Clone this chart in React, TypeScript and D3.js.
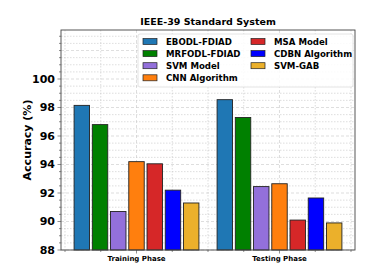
import React from 'react';
import * as d3 from 'd3';

const phases = ['Training Phase', 'Testing Phase'];
const models = ['EBODL-FDIAD', 'MRFODL-FDIAD', 'SVM Model', 'CNN Algorithm', 'MSA Model', 'CDBN Algorithm', 'SVM-GAB'];
const colors = ['#1f77b4', '#008000', '#9370db', '#ff7f0e', '#d62728', '#0000ff', '#ebb02b'];
const training = [98.15, 96.8, 90.7, 94.2, 94.05, 92.2, 91.3];
const testing = [98.55, 97.3, 92.45, 92.65, 90.1, 91.65, 89.9];
const yTicks = [88, 90, 92, 94, 96, 98, 100];

const W = 383;
const H = 278;
const left = 61, right = 355, top = 30, bottom = 250;
const font = '"DejaVu Sans", Verdana, sans-serif';

export default function App() {
  const x = d3.scaleLinear().domain([-0.528, 1.528]).range([left, right]);
  const y = d3.scaleLinear().domain([88, 103.44]).range([bottom, top]);
  const step = 0.1275;
  const bw = 0.108;
  const series = [training, testing];

  const minorY = d3.range(88, 103.5, 0.5);
  const minorX = d3.range(-0.5, 1.51, 0.25);

  const legendX = 138, legendY = 34;
  const colX = [143, 251];
  const rowY = (r: number) => 41.5 + r * 12.1;

  return (
    <svg width={W} height={H} style={{ position: 'absolute', left: 0, top: 0 }}>
      <rect width={W} height={H} fill="#fff" />
      {/* grid */}
      {minorY.map((v, i) => (
        <line key={'gy' + i} x1={left} x2={right} y1={y(v)} y2={y(v)}
          stroke="#c8c8c8" strokeWidth={0.6} strokeDasharray={v % 2 === 0 ? '3,2' : '1.5,1.5'} />
      ))}
      {minorX.map((v, i) => (
        <line key={'gx' + i} x1={x(v)} x2={x(v)} y1={top} y2={bottom}
          stroke="#c8c8c8" strokeWidth={0.6} strokeDasharray={Math.abs(v % 1) < 1e-6 ? '3,2' : '1.5,1.5'} />
      ))}
      {/* bars */}
      {series.map((vals, g) =>
        vals.map((v, k) => (
          <rect key={`b${g}-${k}`}
            x={x(g + (k - 3) * step - bw / 2)}
            width={x(bw) - x(0)}
            y={y(v)}
            height={y(88) - y(v)}
            fill={colors[k]}
            stroke="#222" strokeWidth={0.9} />
        ))
      )}
      {/* frame */}
      <rect x={left} y={top} width={right - left} height={bottom - top} fill="none" stroke="#444" strokeWidth={0.9} />
      {/* y ticks */}
      {minorY.map((v, i) => (
        <line key={'ty' + i} x1={left - (yTicks.includes(v) ? 3.5 : 2)} x2={left} y1={y(v)} y2={y(v)} stroke="#444" strokeWidth={0.6} />
      ))}
      {yTicks.map(t => (
        <text key={'yl' + t} x={left - 6} y={y(t)} dy="0.35em" textAnchor="end"
          fontFamily={font} fontWeight="bold" fontSize={11}>{t}</text>
      ))}
      {/* x ticks */}
      {minorX.map((v, i) => (
        <line key={'tx' + i} x1={x(v)} x2={x(v)} y1={bottom} y2={bottom + (Math.abs(v % 1) < 1e-6 ? 3.5 : 2)} stroke="#444" strokeWidth={0.6} />
      ))}
      {phases.map((p, i) => (
        <text key={p} x={x(i)} y={bottom + 11} textAnchor="middle"
          fontFamily={font} fontWeight="bold" fontSize={7}>{p}</text>
      ))}
      <text transform={`translate(31,${(top + bottom) / 2}) rotate(-90)`} textAnchor="middle"
        fontFamily={font} fontWeight="bold" fontSize={11}>Accuracy (%)</text>
      <text x={208} y={25} textAnchor="middle" fontFamily={font} fontWeight="bold" fontSize={9.5}>IEEE-39 Standard System</text>
      {/* legend */}
      <rect x={legendX} y={legendY} width={215} height={53} rx={2} fill="#fff" fillOpacity={0.85} stroke="#ddd" strokeWidth={0.8} />
      {models.map((m, i) => {
        const c = i < 4 ? 0 : 1;
        const r = i < 4 ? i : i - 4;
        const cy = rowY(r);
        return (
          <g key={m}>
            <rect x={colX[c]} y={cy - 3} width={14} height={6} fill={colors[i]} stroke="#222" strokeWidth={0.7} />
            <text x={colX[c] + 23} y={cy} dy="0.35em" fontFamily={font} fontWeight="bold" fontSize={8.6}>{m}</text>
          </g>
        );
      })}
    </svg>
  );
}
